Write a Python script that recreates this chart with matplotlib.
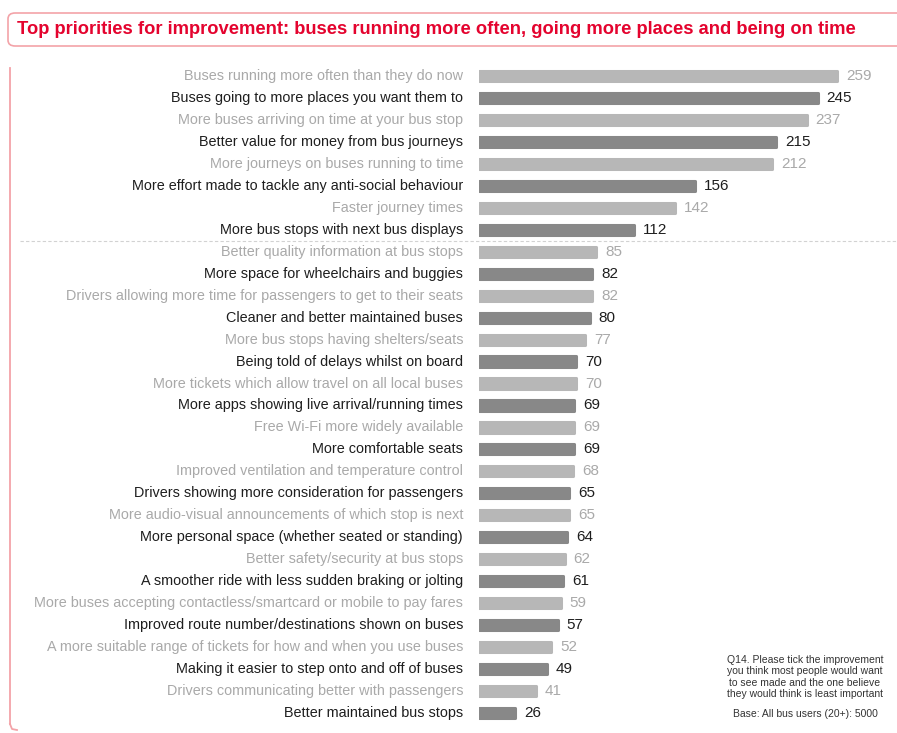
"""
Top priorities for improvement - horizontal bar chart of bus improvements.
"""
import matplotlib.pyplot as plt
from matplotlib.lines import Line2D
from matplotlib.patches import FancyBboxPatch

plt.rcParams.update({
    "font.family": ["Liberation Sans", "DejaVu Sans"],
    "font.size": 10,
})

labels = [
    "Buses running more often than they do now",
    "Buses going to more places you want them to",
    "More buses arriving on time at your bus stop",
    "Better value for money from bus journeys",
    "More journeys on buses running to time",
    "More effort made to tackle any anti-social behaviour",
    "Faster journey times",
    "More bus stops with next bus displays",
    "Better quality information at bus stops",
    "More space for wheelchairs and buggies",
    "Drivers allowing more time for passengers to get to their seats",
    "Cleaner and better maintained buses",
    "More bus stops having shelters/seats",
    "Being told of delays whilst on board",
    "More tickets which allow travel on all local buses",
    "More apps showing live arrival/running times",
    "Free Wi-Fi more widely available",
    "More comfortable seats",
    "Improved ventilation and temperature control",
    "Drivers showing more consideration for passengers",
    "More audio-visual announcements of which stop is next",
    "More personal space (whether seated or standing)",
    "Better safety/security at bus stops",
    "A smoother ride with less sudden braking or jolting",
    "More buses accepting contactless/smartcard or mobile to pay fares",
    "Improved route number/destinations shown on buses",
    "A more suitable range of tickets for how and when you use buses",
    "Making it easier to step onto and off of buses",
    "Drivers communicating better with passengers",
    "Better maintained bus stops",
]
values = [259, 245, 237, 215, 212, 156, 142, 112, 85, 82, 82, 80, 77, 70, 70,
          69, 69, 69, 68, 65, 65, 64, 62, 61, 59, 57, 52, 49, 41, 26]
top_group = 8  # rows above the dashed divider

title = ("Top priorities for improvement: buses running more often, "
         "going more places and being on time")
footnote = ("Q14. Please tick the improvement\n"
            "you think most people would want\n"
            "to see made and the one believe\n"
            "they would think is least important")
base_note = "Base: All bus users (20+): 5000"

LIGHT_BAR, DARK_BAR = "#b7b7b7", "#888888"
LIGHT_TXT, DARK_TXT = "#a9a9a9", "#1e1e1e"
RED = "#e4032e"
PINK = "#f3a3a8"

W, H = 897, 733
fig = plt.figure(figsize=(W / 100, H / 100), dpi=100)

# axes placed in pixel terms: bars start at x=479, rows 76..713 from top
ax_left, ax_right = 479, 897
ax_top, ax_bot = 65, 724
ax = fig.add_axes([ax_left / W, 1 - ax_bot / H,
                   (ax_right - ax_left) / W, (ax_bot - ax_top) / H])
px_per_unit = 358 / 259
ax.set_xlim(0, (ax_right - ax_left) / px_per_unit)
ax.set_ylim(len(values) - 0.5, -0.5)
ax.axis("off")

for i, (lab, v) in enumerate(zip(labels, values)):
    dark = i % 2 == 1
    bc = DARK_BAR if dark else LIGHT_BAR
    tc = DARK_TXT if dark else LIGHT_TXT
    # thick round-joined edge gives the soft rounded bar ends
    ax.barh(i, v, height=0.46, color=bc, edgecolor=bc, linewidth=2.2,
            joinstyle="round")
    ax.text(-16 / px_per_unit, i, lab, ha="right", va="center",
            color=tc, fontsize=10.4, clip_on=False)
    ax.text(v + 9 / px_per_unit, i, str(v), ha="left", va="center",
            color=tc, fontsize=11, clip_on=False)

# dashed divider between the top group and the rest
ax.axhline(top_group - 0.5, xmin=(20 - ax_left) / (ax_right - ax_left),
           xmax=1, color="#d2d2d2", linewidth=0.8, linestyle=(0, (3, 2)),
           clip_on=False)

# title tab with rounded red border
box = FancyBboxPatch((8 / W, 1 - 46 / H), (W + 20) / W, 33 / H,
                     boxstyle="round,pad=0,rounding_size=0.008",
                     transform=fig.transFigure, facecolor="white",
                     edgecolor=PINK, linewidth=1.2, clip_on=False)
fig.add_artist(box)
fig.text(17 / W, 1 - 30 / H, title, ha="left", va="center", color=RED,
         fontsize=13.2, fontweight="bold")

# left rule with a rounded foot
fig.add_artist(Line2D([10 / W, 10 / W], [1 - 68 / H, 1 - 724 / H],
                      color=PINK, linewidth=1.3, transform=fig.transFigure))
fig.add_artist(Line2D([10 / W, 12 / W, 17 / W],
                      [1 - 724 / H, 1 - 729 / H, 1 - 730 / H],
                      color=PINK, linewidth=1.3, transform=fig.transFigure))

fig.text(805 / W, 1 - 677 / H, footnote, ha="center", va="center",
         color="#333333", fontsize=7.5, linespacing=1.15)
fig.text(805 / W, 1 - 714 / H, base_note, ha="center", va="center",
         color="#333333", fontsize=7.5)

fig.savefig("out.png", dpi=100, facecolor="white")
